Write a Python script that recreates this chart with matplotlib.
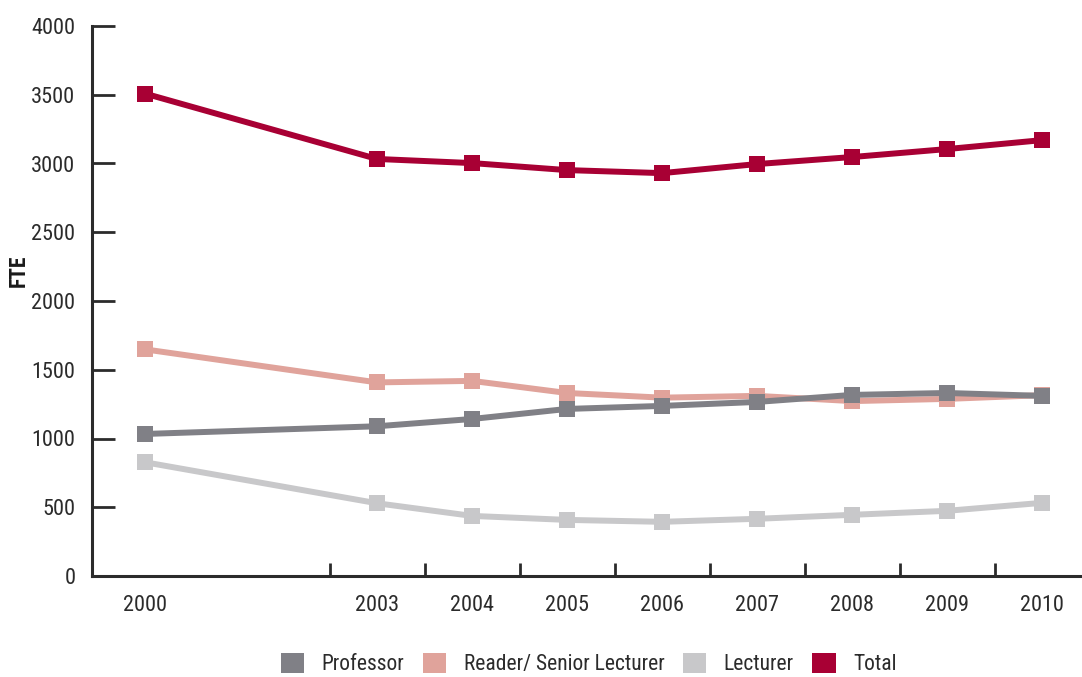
import numpy as np
import matplotlib
matplotlib.use("Agg")
import matplotlib.pyplot as plt
from matplotlib.patches import Patch
from matplotlib import font_manager as fm

years = [2000, 2003, 2004, 2005, 2006, 2007, 2008, 2009, 2010]
professor = [1033, 1089, 1142, 1215, 1237, 1266, 1317, 1331, 1310]
reader = [1648, 1408, 1419, 1331, 1297, 1310, 1272, 1288, 1315]
lecturer = [827, 529, 437, 408, 394, 416, 445, 474, 532]
total = [3508, 3033, 3003, 2952, 2930, 2996, 3047, 3105, 3170]

series_names = ["Professor", "Reader/ Senior Lecturer", "Lecturer", "Total"]
colors = {"Professor": "#808086", "Reader/ Senior Lecturer": "#E0A39B",
          "Lecturer": "#C8C8CA", "Total": "#A80034"}
y_ticks = [0, 500, 1000, 1500, 2000, 2500, 3000, 3500, 4000]


def pick_narrow_font():
    """Prefer a condensed sans face if one is installed."""
    narrow_stretch = {"condensed", "semi-condensed", "extra-condensed",
                      "ultra-condensed", 300, 400, 200, 100}
    found = []
    for f in fm.fontManager.ttflist:
        st = f.stretch
        if ("Narrow" in f.name or "Condensed" in f.name or st in narrow_stretch):
            found.append(f)
    pref = ["Liberation Sans Narrow", "Roboto Condensed", "Open Sans Condensed",
            "Noto Sans", "DejaVu Sans", "Open Sans"]
    for p in pref:
        for f in found:
            if f.name == p:
                return f.name, f.stretch
    if found:
        return found[0].name, found[0].stretch
    return "Roboto", "normal"


fam, stretch = pick_narrow_font()
plt.rcParams['font.family'] = [fam, 'DejaVu Sans']
plt.rcParams['font.stretch'] = stretch

# the first year sits a little nearer the y axis than an even step would put it
x_pos = np.array(years, dtype=float)
x_pos[0] += 0.56

fig = plt.figure(figsize=(10.82, 6.77), dpi=100)
ax = fig.add_axes([92 / 1082, 1 - 576 / 677, 1 - 92 / 1082, (576 - 26) / 677])

text_color = "#2b2b2b"
lw = 4.3
ms = 12

draw_order = [("Total", total), ("Lecturer", lecturer),
              ("Reader/ Senior Lecturer", reader), ("Professor", professor)]
for name, vals in draw_order:
    ax.plot(x_pos, vals, color=colors[name], lw=lw, marker="s", ms=ms,
            markeredgewidth=0, solid_joinstyle="round", clip_on=False)

ax.set_xlim(2000.0, 2010.42)
ax.set_ylim(0, 4000)

ax.set_yticks(y_ticks)
ax.set_yticklabels([str(v) for v in y_ticks])
ax.tick_params(axis="y", direction="in", length=16.5, width=2, color=text_color,
               labelsize=16, labelcolor=text_color, pad=12)

# year labels sit under the points; tick marks fall between them
ax.set_xticks(x_pos)
ax.set_xticklabels([str(y) for y in years])
ax.tick_params(axis="x", length=0, labelsize=16, labelcolor=text_color, pad=14)
for b in np.arange(2002.5, 2010, 1.0):
    ax.plot([b, b], [0, 95], color=text_color, lw=2, clip_on=False,
            solid_capstyle="butt")

for side in ("top", "right"):
    ax.spines[side].set_visible(False)
for side in ("left", "bottom"):
    ax.spines[side].set_linewidth(2.2)
    ax.spines[side].set_color(text_color)

ax.set_ylabel("FTE", fontsize=15.5, fontweight="bold", color="#1a1a1a")
ax.yaxis.set_label_coords(-0.063, 0.555)

handles = [Patch(facecolor=colors[n], edgecolor="none") for n in series_names]
fig.legend(handles, series_names, loc="center", bbox_to_anchor=(0.544, 0.019),
           ncol=4, frameon=False, fontsize=15.5, handlelength=1.1, handleheight=1.1,
           handletextpad=0.8, columnspacing=0.85, labelcolor=text_color)

fig.savefig("out.png", dpi=100)
